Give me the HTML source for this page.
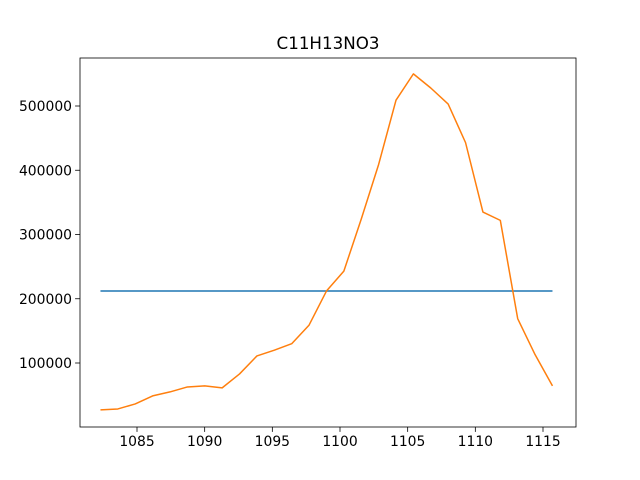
<!DOCTYPE html>
<html><head><meta charset="utf-8"><style>
body{margin:0;background:#fff;}
svg{display:block;font-family:"DejaVu Sans","Liberation Sans",sans-serif;}
</style></head><body>
<svg id="chart" width="640" height="480" viewBox="0 0 640 480"></svg>
<script>
const xStart = 1082.3, xEnd = 1115.7;
const orangeValues = [27000,28500,36300,48800,55000,62700,64400,61300,83000,111000,120000,130000,159000,212000,243000,324000,409000,509000,550000,528000,503000,443000,335000,322000,169000,113000,64400];
const blueValue = 212000;
const xTicks = [1085,1090,1095,1100,1105,1110,1115];
const yTicks = [100000,200000,300000,400000,500000];
const titleText = "C11H13NO3";

const L=80,R=576,T=58,B=427;
const xs = v => 137 + (v-1085)*(543-137)/30;
const ys = v => 427.25 - v*64.25/100000;
const NS="http://www.w3.org/2000/svg";
const svg=document.getElementById('chart');
function mk(tag,attrs,parent){const e=document.createElementNS(NS,tag);for(const k in attrs)e.setAttribute(k,attrs[k]);(parent||svg).appendChild(e);return e;}

const n=orangeValues.length;
const xVals=orangeValues.map((_,i)=>xStart+i*(xEnd-xStart)/(n-1));

const blue=mk('line',{x1:xs(xStart),x2:xs(xEnd),y1:ys(blueValue),y2:ys(blueValue),stroke:'#1f77b4','stroke-width':1.5});



const orange=mk('polyline',{points:xVals.map((x,i)=>xs(x)+','+ys(orangeValues[i])).join(' '),fill:'none',stroke:'#ff7f0e','stroke-width':1.5,'stroke-linejoin':'round'});



const frame=mk('rect',{x:L,y:T,width:R-L,height:B-T,fill:'none',stroke:'#000','stroke-width':0.8});



xTicks.forEach(t=>{
  const x=xs(t);
  const tk=mk('line',{x1:x,x2:x,y1:B,y2:B+4.9,stroke:'#000','stroke-width':0.8});
  
  
  const lb=mk('text',{x:x,y:B+19,'text-anchor':'middle','font-size':13.9,fill:'#000'});
  lb.textContent=t;
  
  
});
yTicks.forEach(t=>{
  const y=ys(t);
  const tk=mk('line',{x1:L-4.9,x2:L,y1:y,y2:y,stroke:'#000','stroke-width':0.8});
  
  
  const lb=mk('text',{x:L-8,y:y+5,'text-anchor':'end','font-size':13.9,fill:'#000'});
  lb.textContent=t;
  
  
});
const title=mk('text',{x:(L+R)/2,y:T-9,'text-anchor':'middle','font-size':16.7,fill:'#000'});
title.textContent=titleText;


</script>
</body></html>
